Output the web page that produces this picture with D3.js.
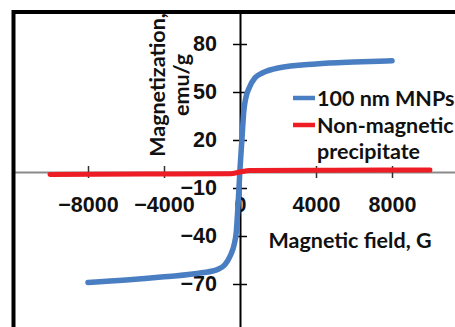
<!DOCTYPE html>
<html>
<head>
<meta charset="utf-8">
<script src="https://cdn.jsdelivr.net/npm/d3@7"></script>
<style>
  body { margin: 0; background: #fff; }
  svg { display: block; font-family: Lato, "Open Sans", sans-serif; }
</style>
</head>
<body>
<svg id="chart" width="455" height="327"></svg>
<script>
// Data
const mnpField = [-8000, -6000, -4000, -2000, -1200, -800, -500, -300, -200, -100, 0, 100, 200, 300, 500, 800, 1200, 2000, 4000, 6000, 8000]
const mnpMag = [-69, -67.5, -65.5, -63, -61, -58, -52, -45, -38, -20, 2, 20, 38, 46, 53, 59, 62, 65, 67.5, 68.7, 69.5]

const precipField = [-10000, -5000, -500, 0, 500, 5000, 10000]
const precipMag = [-1.5, -1.3, -1.1, 0, 0.9, 1.1, 1.3]

const xTicks = [-8000, -4000, 0, 4000, 8000]
const yTicks = [-70, -40, -10, 20, 50, 80]

const seriesNames = ["100 nm MNPs", ["Non-magnetic", "precipitate"]]
const seriesColors = ["#4A7EC2", "#EE1D25"]

const fontSize = "21.5px"

const svg = d3.select("#chart")

const x = d3.scaleLinear().domain([-12000, 12000]).range([12, 468])
const y = d3.scaleLinear().domain([-100, 100]).range([332, 12])

// X axis
const xAxis = svg.append("g")
  .attr("transform", `translate(0, ${y(0)})`)
  .call(d3.axisBottom(x).tickValues(xTicks).tickSize(6).tickSizeOuter(0).tickFormat(d3.format("d")))
xAxis.select(".domain").attr("stroke", "#8a8a8a").attr("stroke-width", 2)
xAxis.selectAll(".tick line").attr("y1", -6).attr("y2", 6).attr("stroke", "#333").attr("stroke-width", 1.5)
xAxis.selectAll(".tick text")
  .attr("y", 32.5).attr("dy", "0.35em")
  .style("font-size", fontSize).style("font-weight", "700").attr("fill", "#111")

// Y axis
const yAxis = svg.append("g")
  .attr("transform", `translate(${x(0)}, 0)`)
  .call(d3.axisLeft(y).tickValues(yTicks).tickSize(7).tickSizeOuter(0))
yAxis.select(".domain").attr("stroke", "#000").attr("stroke-width", 2)
yAxis.selectAll(".tick line").attr("x1", -7).attr("x2", 7).attr("stroke", "#000").attr("stroke-width", 1.5)
yAxis.selectAll(".tick text")
  .attr("x", -23)
  .style("font-size", fontSize).style("font-weight", "700").attr("fill", "#111")

// Plot frame (cropped on the right and bottom)
svg.append("rect")
  .attr("x", x(-12000) + 1.5)
  .attr("y", y(100))
  .attr("width", 480)
  .attr("height", 340)
  .attr("fill", "none")
  .attr("stroke", "#000")
  .attr("stroke-width", 4)

// Axis titles
const yTitle = svg.append("text")
  .attr("transform", `translate(157, 85) rotate(-90)`)
  .attr("text-anchor", "middle")
  .style("font-size", fontSize).style("font-weight", "700").attr("fill", "#111")
yTitle.append("tspan").attr("x", 0).attr("dy", "0.35em").text("Magnetization,")
yTitle.append("tspan").attr("x", 0).attr("dy", "1.15em").text("emu/g")

svg.append("text")
  .attr("x", 350).attr("y", 240).attr("dy", "0.35em")
  .attr("text-anchor", "middle")
  .style("font-size", fontSize).style("font-weight", "700").attr("fill", "#111")
  .text("Magnetic field, G")

// Series
const line = d3.line()
  .x(d => x(d[0]))
  .y(d => y(d[1]))
  .curve(d3.curveMonotoneX)

svg.append("path")
  .datum(d3.zip(mnpField, mnpMag))
  .attr("fill", "none")
  .attr("stroke", seriesColors[0])
  .attr("stroke-width", 5.5)
  .attr("stroke-linecap", "round")
  .attr("stroke-linejoin", "round")
  .attr("d", line)

svg.append("path")
  .datum(d3.zip(precipField, precipMag))
  .attr("fill", "none")
  .attr("stroke", seriesColors[1])
  .attr("stroke-width", 5)
  .attr("stroke-linecap", "round")
  .attr("stroke-linejoin", "round")
  .attr("d", line)

// Legend
const legend = svg.append("g").attr("transform", "translate(293, 98)")
seriesNames.forEach((name, i) => {
  const g = legend.append("g").attr("transform", `translate(0, ${i * 27})`)
  g.append("line")
    .attr("x1", 0).attr("x2", 22)
    .attr("stroke", seriesColors[i])
    .attr("stroke-width", 4.5)
  const t = g.append("text")
    .attr("x", 24)
    .style("font-size", fontSize).style("font-weight", "700").attr("fill", "#111")
  const lines = Array.isArray(name) ? name : [name]
  lines.forEach((l, j) => {
    t.append("tspan").attr("x", 24).attr("dy", j === 0 ? "0.35em" : "1.25em").text(l)
  })
})
</script>
</body>
</html>
